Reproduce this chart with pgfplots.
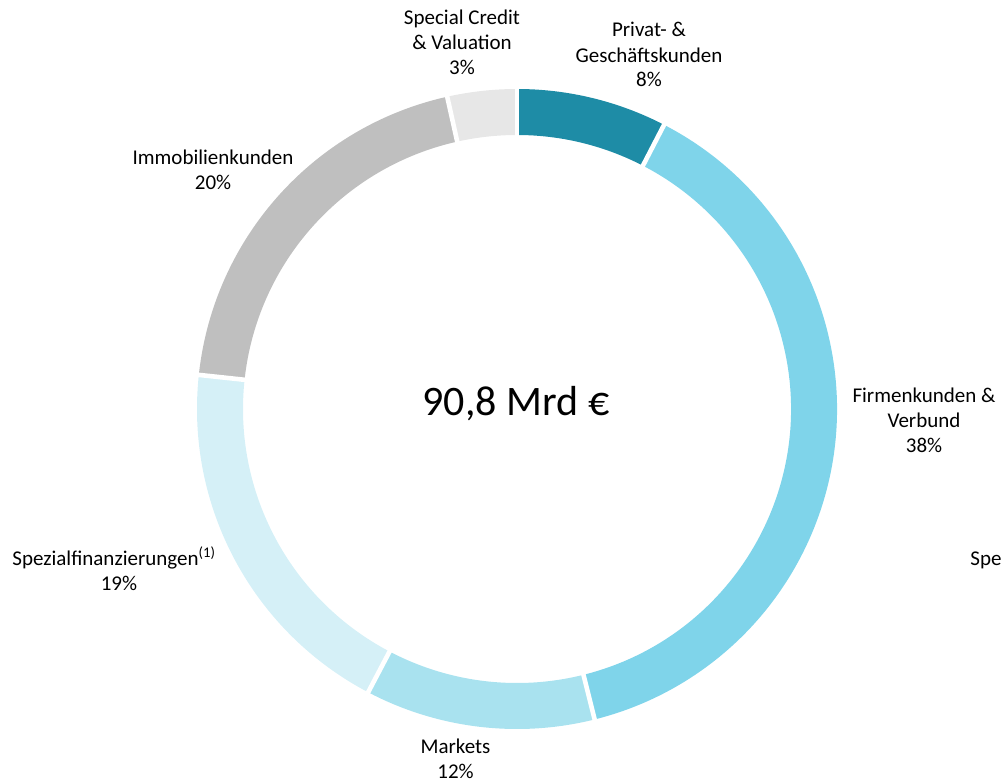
\documentclass[border=0pt]{standalone}
\usepackage{pgfplots}
\pgfplotsset{compat=1.18}
\usepackage{pgfplotstable}
\usepackage{fontspec}
\setmainfont{Carlito}
\definecolor{cA}{HTML}{1E8CA6}
\definecolor{cB}{HTML}{7FD4EA}
\definecolor{cC}{HTML}{A9E2EF}
\definecolor{cD}{HTML}{D5F0F7}
\definecolor{cE}{HTML}{BFBFBF}
\definecolor{cF}{HTML}{E7E7E7}
\pgfplotstableread[col sep=comma]{
seg,value
Privat,7.6
Firmen,38.5
Markets,11.6
Spezial,19.0
Immo,19.8
SCV,3.5
}\segtable
\newcommand\seg[3]{\fill[#3] (axis cs:517,374) ++(#1:160pt) arc[start angle=#1,end angle=#2,radius=160pt] -- ++(#2:-23pt) arc[start angle=#2,end angle=#1,radius=137pt] -- cycle;}
\newcommand\sep[1]{\draw[white,line width=2.3pt] (axis cs:517,374) ++(#1:134pt) -- ++(#1:30pt);}
\newcommand\lab{\fontsize{10.5}{12.5}\selectfont}
\begin{document}
\begin{tikzpicture}
\path[use as bounding box] (0,0) rectangle (500.5pt,391.5pt);
\clip (0,0) rectangle (500.5pt,391.5pt);
\pgfplotstablegetelem{0}{value}\of\segtable \let\vA\pgfplotsretval
\pgfplotstablegetelem{1}{value}\of\segtable \let\vB\pgfplotsretval
\pgfplotstablegetelem{2}{value}\of\segtable \let\vC\pgfplotsretval
\pgfplotstablegetelem{3}{value}\of\segtable \let\vD\pgfplotsretval
\pgfplotstablegetelem{4}{value}\of\segtable \let\vE\pgfplotsretval
\pgfplotstablegetelem{5}{value}\of\segtable \let\vF\pgfplotsretval
\pgfmathsetmacro\aA{90}
\pgfmathsetmacro\aB{\aA-3.6*\vA}
\pgfmathsetmacro\aC{\aB-3.6*\vB}
\pgfmathsetmacro\aD{\aC-3.6*\vC}
\pgfmathsetmacro\aE{\aD-3.6*\vD}
\pgfmathsetmacro\aF{\aE-3.6*\vE}
\pgfmathsetmacro\aG{\aF-3.6*\vF}
\begin{axis}[
  at={(0,0)}, anchor=origin,
  x=0.5pt, y=0.5pt,
  xmin=0, xmax=1001, ymin=0, ymax=783,
  hide axis, clip=false,
]
\seg{\aA}{\aB}{cA}
\seg{\aB}{\aC}{cB}
\seg{\aC}{\aD}{cC}
\seg{\aD}{\aE}{cD}
\seg{\aE}{\aF}{cE}
\seg{\aF}{\aG}{cF}
\sep{\aA}\sep{\aB}\sep{\aC}\sep{\aD}\sep{\aE}\sep{\aF}
% center
\node[anchor=base, font=\fontsize{21}{25}\selectfont] at (axis cs:516,368) {90,8 Mrd €};
% labels
\node[anchor=base, font=\lab] at (axis cs:462,758) {Special Credit};
\node[anchor=base, font=\lab] at (axis cs:462,733.5) {\& Valuation};
\node[anchor=base, font=\lab] at (axis cs:462,708) {3\%};
\node[anchor=base, font=\lab] at (axis cs:649,746) {Privat- \&};
\node[anchor=base, font=\lab] at (axis cs:649,720.5) {Geschäftskunden};
\node[anchor=base, font=\lab] at (axis cs:649,696) {8\%};
\node[anchor=base, font=\lab] at (axis cs:213,618) {Immobilienkunden};
\node[anchor=base, font=\lab] at (axis cs:213,594) {20\%};
\node[anchor=base, font=\lab] at (axis cs:924,381) {Firmenkunden \&};
\node[anchor=base, font=\lab] at (axis cs:924,356) {Verbund};
\node[anchor=base, font=\lab] at (axis cs:924,331) {38\%};
\node[anchor=base west, inner sep=0pt, font=\lab] at (axis cs:12,217.5) {Spezialfinanzierungen\textsuperscript{(1)}};
\node[anchor=base, font=\lab] at (axis cs:119,193) {19\%};
\node[anchor=base, font=\lab] at (axis cs:455.5,30) {Markets};
\node[anchor=base, font=\lab] at (axis cs:455.5,5) {12\%};
\node[anchor=base west, inner sep=0pt, font=\lab] at (axis cs:970,218) {Spezialfinanzierungen};
\end{axis}
\end{tikzpicture}
\end{document}
